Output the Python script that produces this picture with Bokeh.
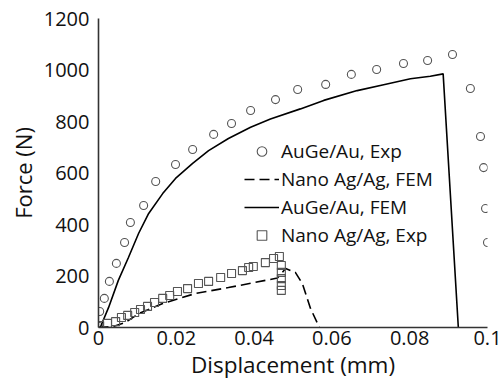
from bokeh.plotting import figure
from bokeh.models import Range1d, Legend, LegendItem, FixedTicker
from bokeh.embed import file_html
from bokeh.resources import INLINE

# AuGe/Au experimental (circles)
auge_exp_x = [0.0, 0.0003, 0.0015, 0.0028, 0.0046, 0.0067, 0.0082, 0.0116, 0.0147, 0.0198,
              0.0242, 0.0296, 0.0342, 0.0391, 0.0455, 0.0512, 0.0584, 0.0650, 0.0715,
              0.0784, 0.0846, 0.0910, 0.0956, 0.0982, 0.0990, 0.0995, 0.1000]
auge_exp_y = [5, 62, 113, 179, 249, 330, 408, 474, 567, 633,
              691, 750, 792, 843, 885, 924, 944, 983, 1002,
              1025, 1037, 1060, 928, 742, 621, 462, 330]

# AuGe/Au FEM (solid)
auge_fem_x = [0.0, 0.0005, 0.0026, 0.0051, 0.0077, 0.0103, 0.0129, 0.0165, 0.0198, 0.0242,
              0.0283, 0.0334, 0.0391, 0.0442, 0.0519, 0.0579, 0.0665, 0.0733, 0.0802,
              0.0853, 0.0886, 0.0925]
auge_fem_y = [0, 2, 78, 183, 272, 365, 443, 520, 579, 637,
              687, 734, 778, 810, 849, 882, 920, 943, 966,
              976, 985, 0]

# Nano Ag/Ag experimental (squares)
nano_exp_x = [0.0003, 0.0023, 0.0044, 0.0059, 0.0075, 0.0093, 0.0108, 0.0126, 0.0144, 0.0165,
              0.0183, 0.0203, 0.0229, 0.0257, 0.0283, 0.0314, 0.0342, 0.0370, 0.0386, 0.0398,
              0.0429, 0.0450, 0.0465, 0.0470, 0.0470, 0.0470, 0.0470, 0.0470]
nano_exp_y = [8, 16, 23, 39, 47, 58, 70, 82, 97, 113,
              124, 140, 151, 171, 179, 194, 210, 221, 233, 237,
              252, 268, 276, 241, 214, 190, 163, 144]

# Nano Ag/Ag FEM (dashed)
nano_fem_x = [0.0, 0.0040, 0.0069, 0.0103, 0.0165, 0.0249, 0.0334, 0.0429, 0.0460, 0.0481,
              0.0506, 0.0524, 0.0545, 0.0568]
nano_fem_y = [0, 5, 19, 54, 93, 132, 155, 183, 192, 229,
              214, 171, 74, 0]

x_ticks = [0, 0.02, 0.04, 0.06, 0.08, 0.1]
x_tick_labels = {0: "0", 0.02: "0.02", 0.04: "0.04", 0.06: "0.06", 0.08: "0.08", 0.1: "0.1"}
y_ticks = [0, 200, 400, 600, 800, 1000, 1200]

FONT = "Open Sans"

p = figure(width=504, height=389, output_backend="svg", toolbar_location=None,
           x_range=Range1d(0, 0.1), y_range=Range1d(0, 1200),
           min_border_left=98, min_border_right=17, min_border_top=18, min_border_bottom=62)
p.outline_line_color = None
p.grid.grid_line_color = None

for ax in (p.xaxis[0], p.yaxis[0]):
    ax.axis_line_color = "#333333"
    ax.axis_line_width = 1.6
    ax.major_tick_line_color = None
    ax.minor_tick_line_color = None
    ax.major_tick_out = 0
    ax.major_tick_in = 0
    ax.minor_tick_out = 0
    ax.major_label_text_font = FONT
    ax.major_label_text_font_size = "20px"
    ax.major_label_text_color = "#111111"
    ax.axis_label_text_font = FONT
    ax.axis_label_text_font_style = "normal"
    ax.axis_label_text_color = "#111111"

p.xaxis.ticker = FixedTicker(ticks=x_ticks)
p.xaxis.major_label_overrides = x_tick_labels
p.yaxis.ticker = FixedTicker(ticks=y_ticks)
p.xaxis.axis_label = "Displacement (mm)"
p.yaxis.axis_label = "Force (N)"
p.xaxis.axis_label_text_font_size = "22.5px"
p.yaxis.axis_label_text_font_size = "22px"
p.xaxis.major_label_standoff = 3
p.yaxis.major_label_standoff = 9
p.xaxis.axis_label_standoff = 1
p.yaxis.axis_label_standoff = 3

r_circ = p.scatter(auge_exp_x, auge_exp_y, marker="circle", size=8, fill_color=None,
                   line_color="#555555", line_width=1.1)
r_nfem = p.line(nano_fem_x, nano_fem_y, line_color="black", line_width=1.6, line_dash="10 5")
r_afem = p.line(auge_fem_x, auge_fem_y, line_color="black", line_width=1.6)
r_sq = p.scatter(nano_exp_x, nano_exp_y, marker="square", size=8, fill_color=None,
                 line_color="#555555", line_width=1.1)

legend = Legend(items=[
    LegendItem(label="AuGe/Au, Exp", renderers=[r_circ]),
    LegendItem(label="Nano Ag/Ag, FEM", renderers=[r_nfem]),
    LegendItem(label="AuGe/Au, FEM", renderers=[r_afem]),
    LegendItem(label="Nano Ag/Ag, Exp", renderers=[r_sq]),
], location=(146, 79))
legend.padding = 0
legend.margin = 0
legend.spacing = 2
legend.glyph_height = 24
legend.glyph_width = 35
legend.label_height = 24
legend.label_standoff = 2
legend.border_line_color = None
legend.background_fill_alpha = 0
legend.label_text_font = FONT
legend.label_text_font_size = "19px"
legend.label_text_color = "#111111"
p.add_layout(legend, "center")

open("out.html", "w").write(file_html(p, INLINE))
